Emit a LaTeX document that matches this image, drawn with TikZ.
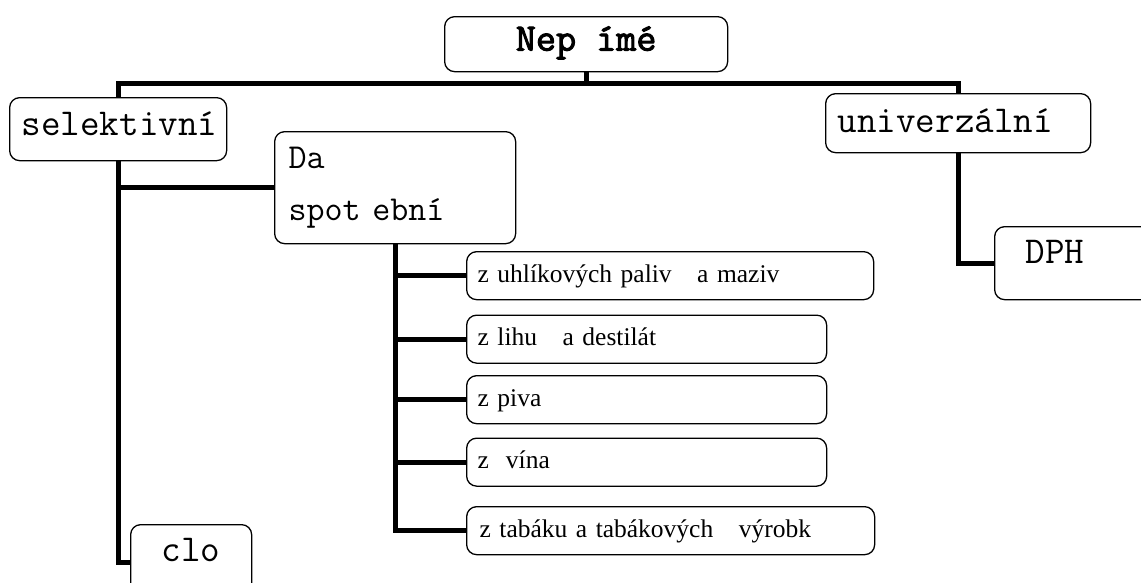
\documentclass[tikz,border=0pt]{standalone}
\usepackage{fontspec}
\setmainfont{Liberation Serif}
\newfontfamily\boldmono{Latin Modern Mono}[FakeBold=2.5]
\begin{document}
\begin{tikzpicture}[x=1pt,y=-1pt,
  box/.style={draw, line width=1.3pt, rounded corners=10pt, inner ysep=0pt, anchor=north west},
  mono/.style={font=\ttfamily\fontsize{38}{44}\selectfont},
  sbox/.style={box, minimum height=48, inner xsep=11pt, align=left,
    font=\fontsize{25.5}{30}\selectfont, text height=17pt, text depth=4pt},
  conn/.style={line width=5pt, line join=miter}]
\useasboundingbox (0,0) rectangle (1141,582);
\clip (0,0) rectangle (1141,582);
% boxes
\node[box, minimum width=283, minimum height=55, text height=20pt, text depth=7pt,
  font=\boldmono\fontsize{39}{44}\selectfont] (title) at (444,16) {Nep ímé};
\node[box, mono, minimum height=63, inner xsep=12pt, text width=193pt, align=left,
  text height=20pt, text depth=7pt] (sel) at (9,97) {selektivní};
\node[box, mono, minimum height=59, inner xsep=12pt, text width=241pt, align=left,
  text height=24pt, text depth=5pt] (univ) at (825,93) {univerzální};
\node[box, minimum height=112, inner xsep=14pt, text width=213pt, align=left,
  font=\ttfamily\fontsize{35}{52}\selectfont] (da) at (274,131) {Da\\spot ební};
\node[box, mono, minimum height=73, inner xsep=31pt, text width=120pt, align=left,
  text height=10pt, text depth=9pt] (dph) at (994,226) {DPH};
\node[box, mono, minimum width=121, minimum height=76, text height=10pt, text depth=12pt] (clo) at (130,524) {clo};
\node[sbox, text width=385pt] (b1) at (466,251) {z uhlíkových paliv\ \ \ a maziv};
\node[sbox, text width=338pt] (b2) at (466,314.5) {z lihu\ \ \ a destilát};
\node[sbox, text width=338pt] (b3) at (466,375) {z piva};
\node[sbox, text width=338pt] (b4) at (466,437.5) {z\ \ vína};
\node[sbox, inner xsep=13pt, text width=382pt] (b5) at (466,506) {z tabáku a tabákových\ \ \ výrobk};
% connectors
\draw[conn] (title.south) -- ++(0,11) coordinate (tj) -| (sel.north);
\draw[conn] (tj) -| (univ.north);
\draw[conn] (sel.south) |- (clo.west);
\draw[conn] (sel.south |- da.west) -- (da.west);
\draw[conn] (univ.south) |- (dph.west);
\draw[conn] (da.south) |- (b5.west);
\draw[conn] (da.south |- b1.west) -- (b1.west);
\draw[conn] (da.south |- b2.west) -- (b2.west);
\draw[conn] (da.south |- b3.west) -- (b3.west);
\draw[conn] (da.south |- b4.west) -- (b4.west);
\end{tikzpicture}
\end{document}
